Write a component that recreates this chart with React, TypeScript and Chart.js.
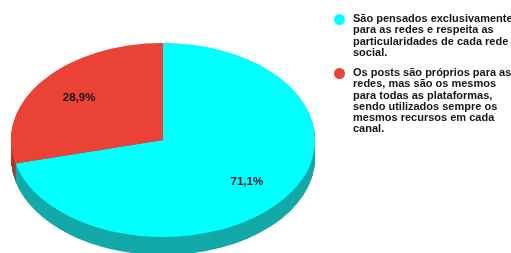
import React, { useEffect, useRef } from "react";
import { Chart, registerables } from "chart.js";

Chart.register(...registerables);

const categories: string[][] = [
  ["São pensados exclusivamente", "para as redes e respeita as", "particularidades de cada rede", "social."],
  ["Os posts são próprios para as", "redes, mas são os mesmos", "para todas as plataformas,", "sendo utilizados sempre os", "mesmos recursos em cada", "canal."],
];
const values: number[] = [71.1, 28.9];
const topColors: string[] = ["#00FFFF", "#EA4335"];
const sideColors: string[] = ["#14A9A9", "#B5362B"];

// ellipse geometry (pixels on the page)
const RX = 152;
const RY = 97;
const DEPTH = 18;
const FONT = "'Liberation Sans', Arial, sans-serif";

const fmt = (v: number) => v.toFixed(1).replace(".", ",") + "%";

const tiltPlugin = {
  id: "tilt",
  beforeDatasetsDraw(chart: any) {
    const meta = chart.getDatasetMeta(0);
    const a0 = meta.data[0];
    const { x, y, outerRadius } = a0;
    const sx = RX / outerRadius;
    const sy = RY / outerRadius;
    const ctx = chart.ctx as CanvasRenderingContext2D;
    ctx.save();
    ctx.translate(x, y);
    ctx.scale(sx, sy);
    ctx.translate(-x, -y);
    const du = DEPTH / sy;
    for (let d = du; d > 0; d -= 0.5) {
      meta.data.forEach((a: any, i: number) => {
        ctx.beginPath();
        ctx.moveTo(a.x, a.y + d);
        ctx.arc(a.x, a.y + d, a.outerRadius, a.startAngle, a.endAngle);
        ctx.closePath();
        ctx.fillStyle = sideColors[i];
        ctx.fill();
      });
    }
  },
  afterDatasetsDraw(chart: any) {
    const ctx = chart.ctx as CanvasRenderingContext2D;
    ctx.restore();
    const meta = chart.getDatasetMeta(0);
    ctx.save();
    ctx.font = `bold 11.5px ${FONT}`;
    ctx.fillStyle = "#151515";
    ctx.textAlign = "center";
    ctx.textBaseline = "middle";
    meta.data.forEach((a: any, i: number) => {
      const mid = (a.startAngle + a.endAngle) / 2;
      const sx = RX / a.outerRadius;
      const sy = RY / a.outerRadius;
      const px = a.x + Math.cos(mid) * a.outerRadius * 0.7 * sx;
      const py = a.y + Math.sin(mid) * a.outerRadius * 0.7 * sy;
      ctx.fillText(fmt(values[i]), px, py);
    });
    ctx.restore();
  },
};

export default function App() {
  const ref = useRef<HTMLCanvasElement>(null);
  useEffect(() => {
    if (!ref.current) return;
    const chart = new Chart(ref.current, {
      type: "pie",
      data: {
        labels: categories.map((c) => c.join(" ")),
        datasets: [
          {
            data: values,
            backgroundColor: topColors,
            borderWidth: 0,
          },
        ],
      },
      options: {
        animation: false,
        responsive: false,
        layout: { padding: { left: 11, right: 196, top: 27, bottom: 0 } },
        plugins: { legend: { display: false }, tooltip: { enabled: false } },
      },
      plugins: [tiltPlugin],
    });
    return () => chart.destroy();
  }, []);

  const itemTops = [13, 67];
  return (
    <div style={{ position: "fixed", left: 0, top: 0, width: 511, height: 253, background: "#fff", overflow: "hidden" }}>
      <canvas ref={ref} width={511} height={253} style={{ position: "absolute", left: 0, top: 0 }} />
      {categories.map((lines, i) => (
        <div key={i} style={{ position: "absolute", left: 333, top: itemTops[i], width: 180 }}>
          <div
            style={{
              position: "absolute",
              left: 1,
              top: 1,
              width: 11,
              height: 11,
              borderRadius: "50%",
              background: topColors[i],
            }}
          />
          <div
            style={{
              position: "absolute",
              left: 20,
              top: 0,
              font: `bold 11px ${FONT}`,
              lineHeight: "11.3px",
              color: "#151515",
              whiteSpace: "nowrap",
            }}
          >
            {lines.map((l, j) => (
              <div key={j}>{l}</div>
            ))}
          </div>
        </div>
      ))}
    </div>
  );
}
